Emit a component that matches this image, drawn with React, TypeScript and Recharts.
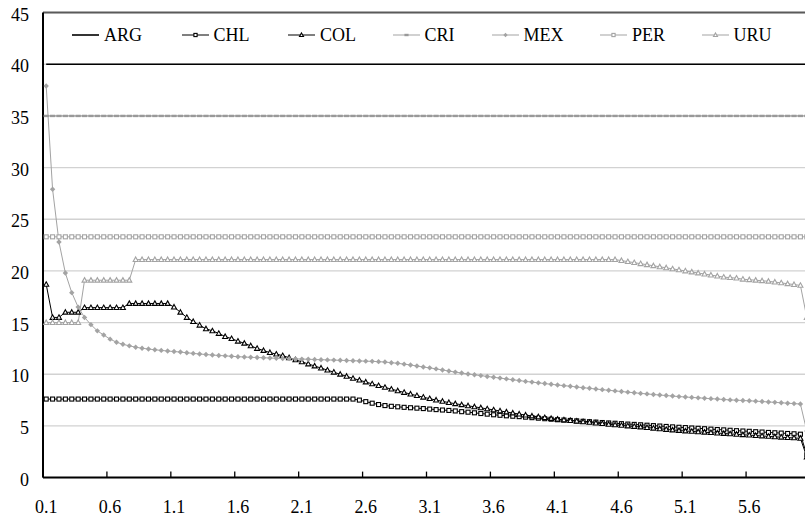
import React from "react";
import {
  LineChart,
  Line,
  XAxis,
  YAxis,
  CartesianGrid,
  ReferenceLine,
} from "recharts";

// x categories, step 0.05
const CATEGORIES = [
  0.1, 0.15, 0.2, 0.25, 0.3, 0.35, 0.4, 0.45, 0.5, 0.55,
  0.6, 0.65, 0.7, 0.75, 0.8, 0.85, 0.9, 0.95, 1.0, 1.05,
  1.1, 1.15, 1.2, 1.25, 1.3, 1.35, 1.4, 1.45, 1.5, 1.55,
  1.6, 1.65, 1.7, 1.75, 1.8, 1.85, 1.9, 1.95, 2.0, 2.05,
  2.1, 2.15, 2.2, 2.25, 2.3, 2.35, 2.4, 2.45, 2.5, 2.55,
  2.6, 2.65, 2.7, 2.75, 2.8, 2.85, 2.9, 2.95, 3.0, 3.05,
  3.1, 3.15, 3.2, 3.25, 3.3, 3.35, 3.4, 3.45, 3.5, 3.55,
  3.6, 3.65, 3.7, 3.75, 3.8, 3.85, 3.9, 3.95, 4.0, 4.05,
  4.1, 4.15, 4.2, 4.25, 4.3, 4.35, 4.4, 4.45, 4.5, 4.55,
  4.6, 4.65, 4.7, 4.75, 4.8, 4.85, 4.9, 4.95, 5.0, 5.05,
  5.1, 5.15, 5.2, 5.25, 5.3, 5.35, 5.4, 5.45, 5.5, 5.55,
  5.6, 5.65, 5.7, 5.75, 5.8, 5.85, 5.9, 5.95, 6.0, 6.05,
];

const Y_TICKS = [0, 5, 10, 15, 20, 25, 30, 35, 40, 45];

const ARG = [
  40, 40, 40, 40, 40, 40, 40, 40, 40, 40,
  40, 40, 40, 40, 40, 40, 40, 40, 40, 40,
  40, 40, 40, 40, 40, 40, 40, 40, 40, 40,
  40, 40, 40, 40, 40, 40, 40, 40, 40, 40,
  40, 40, 40, 40, 40, 40, 40, 40, 40, 40,
  40, 40, 40, 40, 40, 40, 40, 40, 40, 40,
  40, 40, 40, 40, 40, 40, 40, 40, 40, 40,
  40, 40, 40, 40, 40, 40, 40, 40, 40, 40,
  40, 40, 40, 40, 40, 40, 40, 40, 40, 40,
  40, 40, 40, 40, 40, 40, 40, 40, 40, 40,
  40, 40, 40, 40, 40, 40, 40, 40, 40, 40,
  40, 40, 40, 40, 40, 40, 40, 40, 40, 40,
];

const CHL = [
  7.6, 7.6, 7.6, 7.6, 7.6, 7.6, 7.6, 7.6, 7.6, 7.6,
  7.6, 7.6, 7.6, 7.6, 7.6, 7.6, 7.6, 7.6, 7.6, 7.6,
  7.6, 7.6, 7.6, 7.6, 7.6, 7.6, 7.6, 7.6, 7.6, 7.6,
  7.6, 7.6, 7.6, 7.6, 7.6, 7.6, 7.6, 7.6, 7.6, 7.6,
  7.6, 7.6, 7.6, 7.6, 7.6, 7.6, 7.6, 7.6, 7.6, 7.5,
  7.35, 7.2, 7.07, 6.97, 6.9, 6.85, 6.8, 6.76, 6.72, 6.68,
  6.63, 6.58, 6.54, 6.5, 6.45, 6.38, 6.33, 6.27, 6.2, 6.14,
  6.08, 6.03, 5.98, 5.94, 5.9, 5.85, 5.8, 5.75, 5.7, 5.65,
  5.6, 5.57, 5.53, 5.49, 5.45, 5.41, 5.37, 5.33, 5.29, 5.26,
  5.22, 5.18, 5.15, 5.11, 5.07, 5.03, 4.99, 4.95, 4.91, 4.87,
  4.84, 4.8, 4.77, 4.73, 4.69, 4.65, 4.62, 4.58, 4.54, 4.51,
  4.48, 4.44, 4.41, 4.37, 4.34, 4.31, 4.27, 4.24, 4.2, 2.2,
];

const COL = [
  18.7, 15.5, 15.5, 16.0, 16.0, 16.0, 16.45, 16.45, 16.45, 16.45,
  16.45, 16.45, 16.45, 16.85, 16.85, 16.85, 16.85, 16.85, 16.85, 16.85,
  16.5, 16.0, 15.5, 15.1, 14.75, 14.4, 14.2, 13.95, 13.65, 13.45,
  13.2, 13.0, 12.75, 12.5, 12.3, 12.1, 11.95, 11.8, 11.6, 11.4,
  11.2, 11.0, 10.8, 10.6, 10.4, 10.2, 10.0, 9.8, 9.6, 9.43,
  9.25, 9.07, 8.9, 8.73, 8.56, 8.4, 8.24, 8.08, 7.93, 7.78,
  7.64, 7.5, 7.38, 7.26, 7.15, 7.05, 6.95, 6.85, 6.75, 6.65,
  6.55, 6.45, 6.35, 6.25, 6.15, 6.05, 5.96, 5.88, 5.8, 5.72,
  5.65, 5.58, 5.52, 5.46, 5.4, 5.34, 5.28, 5.22, 5.16, 5.1,
  5.05, 5.0, 4.95, 4.9, 4.84, 4.78, 4.72, 4.66, 4.61, 4.56,
  4.51, 4.47, 4.43, 4.39, 4.35, 4.31, 4.27, 4.23, 4.19, 4.15,
  4.11, 4.07, 4.03, 3.99, 3.95, 3.91, 3.87, 3.84, 3.8, 2.0,
];

const CRI = [
  35, 35, 35, 35, 35, 35, 35, 35, 35, 35,
  35, 35, 35, 35, 35, 35, 35, 35, 35, 35,
  35, 35, 35, 35, 35, 35, 35, 35, 35, 35,
  35, 35, 35, 35, 35, 35, 35, 35, 35, 35,
  35, 35, 35, 35, 35, 35, 35, 35, 35, 35,
  35, 35, 35, 35, 35, 35, 35, 35, 35, 35,
  35, 35, 35, 35, 35, 35, 35, 35, 35, 35,
  35, 35, 35, 35, 35, 35, 35, 35, 35, 35,
  35, 35, 35, 35, 35, 35, 35, 35, 35, 35,
  35, 35, 35, 35, 35, 35, 35, 35, 35, 35,
  35, 35, 35, 35, 35, 35, 35, 35, 35, 35,
  35, 35, 35, 35, 35, 35, 35, 35, 35, 35,
];

const MEX = [
  37.9, 27.9, 22.8, 19.8, 17.9, 16.5, 15.5, 14.8, 14.2, 13.8,
  13.4, 13.1, 12.9, 12.75, 12.62, 12.52, 12.44, 12.37, 12.31, 12.25,
  12.2, 12.15, 12.08, 12.02, 11.96, 11.91, 11.86, 11.82, 11.78, 11.74,
  11.7, 11.67, 11.64, 11.62, 11.6, 11.57, 11.55, 11.53, 11.51, 11.49,
  11.47, 11.45, 11.43, 11.41, 11.39, 11.37, 11.35, 11.33, 11.31, 11.29,
  11.27, 11.25, 11.22, 11.18, 11.12, 11.06, 10.98, 10.9, 10.8, 10.7,
  10.62, 10.52, 10.42, 10.31, 10.21, 10.12, 10.03, 9.95, 9.87, 9.79,
  9.71, 9.63, 9.55, 9.47, 9.39, 9.31, 9.24, 9.17, 9.1, 9.03,
  8.96, 8.9, 8.84, 8.77, 8.7, 8.64, 8.57, 8.51, 8.45, 8.39,
  8.33, 8.27, 8.21, 8.15, 8.1, 8.04, 7.99, 7.94, 7.89, 7.84,
  7.8, 7.76, 7.72, 7.68, 7.64, 7.6, 7.56, 7.52, 7.49, 7.46,
  7.43, 7.4, 7.36, 7.32, 7.28, 7.24, 7.2, 7.16, 7.12, 4.5,
];

const PER = [
  23.3, 23.3, 23.3, 23.3, 23.3, 23.3, 23.3, 23.3, 23.3, 23.3,
  23.3, 23.3, 23.3, 23.3, 23.3, 23.3, 23.3, 23.3, 23.3, 23.3,
  23.3, 23.3, 23.3, 23.3, 23.3, 23.3, 23.3, 23.3, 23.3, 23.3,
  23.3, 23.3, 23.3, 23.3, 23.3, 23.3, 23.3, 23.3, 23.3, 23.3,
  23.3, 23.3, 23.3, 23.3, 23.3, 23.3, 23.3, 23.3, 23.3, 23.3,
  23.3, 23.3, 23.3, 23.3, 23.3, 23.3, 23.3, 23.3, 23.3, 23.3,
  23.3, 23.3, 23.3, 23.3, 23.3, 23.3, 23.3, 23.3, 23.3, 23.3,
  23.3, 23.3, 23.3, 23.3, 23.3, 23.3, 23.3, 23.3, 23.3, 23.3,
  23.3, 23.3, 23.3, 23.3, 23.3, 23.3, 23.3, 23.3, 23.3, 23.3,
  23.3, 23.3, 23.3, 23.3, 23.3, 23.3, 23.3, 23.3, 23.3, 23.3,
  23.3, 23.3, 23.3, 23.3, 23.3, 23.3, 23.3, 23.3, 23.3, 23.3,
  23.3, 23.3, 23.3, 23.3, 23.3, 23.3, 23.3, 23.3, 23.3, 23.3,
];

const URU = [
  15, 15, 15, 15, 15, 15, 19.1, 19.1, 19.1, 19.1,
  19.1, 19.1, 19.1, 19.1, 21.1, 21.1, 21.1, 21.1, 21.1, 21.1,
  21.1, 21.1, 21.1, 21.1, 21.1, 21.1, 21.1, 21.1, 21.1, 21.1,
  21.1, 21.1, 21.1, 21.1, 21.1, 21.1, 21.1, 21.1, 21.1, 21.1,
  21.1, 21.1, 21.1, 21.1, 21.1, 21.1, 21.1, 21.1, 21.1, 21.1,
  21.1, 21.1, 21.1, 21.1, 21.1, 21.1, 21.1, 21.1, 21.1, 21.1,
  21.1, 21.1, 21.1, 21.1, 21.1, 21.1, 21.1, 21.1, 21.1, 21.1,
  21.1, 21.1, 21.1, 21.1, 21.1, 21.1, 21.1, 21.1, 21.1, 21.1,
  21.1, 21.1, 21.1, 21.1, 21.1, 21.1, 21.1, 21.1, 21.1, 21.1,
  21.0, 20.9, 20.8, 20.7, 20.6, 20.5, 20.4, 20.3, 20.2, 20.1,
  20.0, 19.9, 19.8, 19.7, 19.6, 19.5, 19.4, 19.35, 19.3, 19.2,
  19.15, 19.1, 19.05, 19.0, 18.92, 18.84, 18.76, 18.68, 18.6, 15.5,
];

const data = CATEGORIES.map((x, i) => ({
  x,
  ARG: ARG[i],
  CHL: CHL[i],
  COL: COL[i],
  CRI: CRI[i],
  MEX: MEX[i],
  PER: PER[i],
  URU: URU[i],
}));

const FONT = '"Liberation Serif", "Times New Roman", serif';
const BLACK = "#000000";
const GRAY = "#a3a3a3";

type Shape = "none" | "square" | "triangle" | "dash" | "diamond";

const SERIES: { key: string; color: string; shape: Shape; width: number; legendX: number }[] = [
  { key: "ARG", color: BLACK, shape: "none", width: 1.6, legendX: 72 },
  { key: "CHL", color: BLACK, shape: "square", width: 1, legendX: 181.5 },
  { key: "COL", color: BLACK, shape: "triangle", width: 1, legendX: 288 },
  { key: "CRI", color: GRAY, shape: "dash", width: 1, legendX: 392.5 },
  { key: "MEX", color: GRAY, shape: "diamond", width: 1, legendX: 491.5 },
  { key: "PER", color: GRAY, shape: "square", width: 1, legendX: 600 },
  { key: "URU", color: GRAY, shape: "triangle", width: 1, legendX: 701.5 },
];

// plot geometry
const CHART_W = 812;
const CHART_H = 517;
const PLOT_LEFT = 43;
const PLOT_RIGHT_MARGIN = 2;
const PLOT_W = CHART_W - PLOT_LEFT - PLOT_RIGHT_MARGIN;
const HALF_BAND = PLOT_W / CATEGORIES.length / 2;

function marker(shape: Shape, color: string, cx: number, cy: number, s = 1, key?: string) {
  switch (shape) {
    case "square":
      return (
        <rect key={key} x={cx - 2 * s} y={cy - 2 * s} width={4 * s} height={4 * s}
          fill="#fff" stroke={color} strokeWidth={1.1} />
      );
    case "triangle":
      return (
        <polygon key={key}
          points={`${cx},${cy - 2.6 * s} ${cx + 2.5 * s},${cy + 1.9 * s} ${cx - 2.5 * s},${cy + 1.9 * s}`}
          fill="#fff" stroke={color} strokeWidth={1.1} />
      );
    case "dash":
      return (
        <rect key={key} x={cx - 2.6 * s} y={cy - 1.2} width={5.2 * s} height={2.4} fill="#999" />
      );
    case "diamond":
      return (
        <polygon key={key}
          points={`${cx},${cy - 2.7 * s} ${cx + 2.7 * s},${cy} ${cx},${cy + 2.7 * s} ${cx - 2.7 * s},${cy}`}
          fill={color} />
      );
    default:
      return <g key={key} />;
  }
}

const XTick = (props: any) => {
  const { x, y, payload } = props;
  return (
    <g>
      <line x1={x - HALF_BAND} x2={x - HALF_BAND} y1={y} y2={y - 6} stroke={BLACK} strokeWidth={1.3} />
      <text x={x} y={y + 35.4} textAnchor="middle" fontSize={18} fontFamily={FONT} fill={BLACK}>
        {payload.value}
      </text>
    </g>
  );
};

const YTick = (props: any) => {
  const { x, y, payload } = props;
  return (
    <text x={x} y={y + 8} textAnchor="end" fontSize={18} fontFamily={FONT} fill={BLACK}>
      {payload.value}
    </text>
  );
};

const LegendRow = () => (
  <>
    {SERIES.map((s) => (
      <div
        key={s.key}
        style={{
          position: "absolute",
          left: s.legendX,
          top: 25,
          height: 20,
          display: "flex",
          alignItems: "center",
          fontFamily: FONT,
          fontSize: 18,
          lineHeight: "20px",
          color: BLACK,
          whiteSpace: "nowrap",
        }}
      >
        <svg width={27} height={12} style={{ marginRight: 5 }}>
          <line x1={0} x2={27} y1={6} y2={6} stroke={s.color} strokeWidth={s.width} />
          {marker(s.shape, s.color, 13.5, 6, 0.8)}
        </svg>
        <span>{s.key}</span>
      </div>
    ))}
  </>
);

export default function App() {
  return (
    <div
      style={{
        position: "fixed",
        left: 0,
        top: 0,
        width: 805,
        height: 517,
        overflow: "hidden",
        background: "#fff",
      }}
    >
      <LineChart
        width={CHART_W}
        height={CHART_H}
        data={data}
        margin={{ top: 12.6, right: PLOT_RIGHT_MARGIN, bottom: 0, left: 0 }}
      >
        <CartesianGrid horizontal vertical={false} stroke="#d2d2d2" strokeWidth={1.3} />
        <XAxis
          dataKey="x"
          interval={9}
          height={39.4}
          padding={{ left: HALF_BAND, right: HALF_BAND }}
          axisLine={{ stroke: BLACK, strokeWidth: 2 }}
          tickLine={false}
          tickSize={0}
          tickMargin={0}
          tick={<XTick />}
        />
        <YAxis
          type="number"
          domain={[0, 45]}
          ticks={Y_TICKS}
          interval={0}
          width={PLOT_LEFT}
          axisLine={{ stroke: BLACK, strokeWidth: 2 }}
          tickLine={false}
          tickSize={0}
          tickMargin={14}
          tick={<YTick />}
        />
        <ReferenceLine y={45} stroke="#5a5a5a" strokeWidth={2} />
        {SERIES.map((s) => (
          <Line
            key={s.key}
            dataKey={s.key}
            stroke={s.color}
            strokeWidth={s.width}
            isAnimationActive={false}
            activeDot={false}
            dot={
              s.shape === "none"
                ? false
                : (p: any) =>
                    p.cx == null || p.cy == null
                      ? <g key={`${s.key}-${p.index}`} />
                      : marker(s.shape, s.color, p.cx, p.cy, 1, `${s.key}-${p.index}`)
            }
          />
        ))}
      </LineChart>
      <LegendRow />
    </div>
  );
}
